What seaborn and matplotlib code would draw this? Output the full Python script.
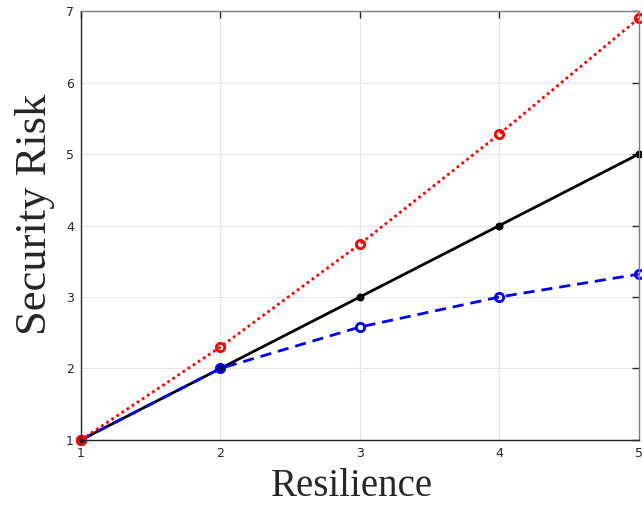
import pandas as pd
import matplotlib
matplotlib.use("Agg")
import matplotlib.pyplot as plt
import seaborn as sns

# values
resilience = [1, 2, 3, 4, 5]
risk_linear = [1, 2, 3, 4, 5]
risk_low = [1, 2, 2.58, 3, 3.32]
risk_high = [1, 2.3, 3.74, 5.28, 6.9]

sns.set_style("white")

fig = plt.figure(figsize=(6.42, 5.08), dpi=100)
ax = fig.add_axes([0.126, 0.134, 0.869, 0.844])

sns.lineplot(x=resilience, y=risk_linear, ax=ax, color="black", linewidth=2, clip_on=False,
             marker="o", markersize=5, markerfacecolor="black", markeredgecolor="black")
sns.lineplot(x=resilience, y=risk_low, ax=ax, color="blue", linewidth=2, linestyle=(0, (4, 2.5)),
             clip_on=False, marker="o", markersize=6, markerfacecolor="none",
             markeredgecolor="blue", markeredgewidth=2)
sns.lineplot(x=resilience, y=risk_high, ax=ax, color="red", linewidth=2, linestyle=(0, (1, 1.2)),
             clip_on=False, marker="o", markersize=6, markerfacecolor="none",
             markeredgecolor="red", markeredgewidth=2)

ax.set_xlim(1, 5)
ax.set_ylim(1, 7)
ax.set_xticks([1, 2, 3, 4, 5])
ax.set_yticks([1, 2, 3, 4, 5, 6, 7])
ax.grid(True, color="#e6e6e6", linewidth=0.8)
ax.set_axisbelow(True)
ax.tick_params(direction="in", length=5, width=1, labelsize=9, colors="#262626",
               top=True, right=True, pad=5)
for side in ["left", "bottom"]:
    ax.spines[side].set_color("#262626")
for side in ["top", "right"]:
    ax.spines[side].set_color("#808080")
for s in ax.spines.values():
    s.set_linewidth(1)

ax.set_xlabel("Resilience", family="Liberation Serif", fontsize=28, color="#262626", labelpad=6)
ax.set_ylabel("Security Risk", family="Liberation Serif", fontsize=32, color="#262626", labelpad=8)
ax.xaxis.label.set_x(0.486)
ax.yaxis.label.set_y(0.527)

plt.savefig("out.png", dpi=100)
